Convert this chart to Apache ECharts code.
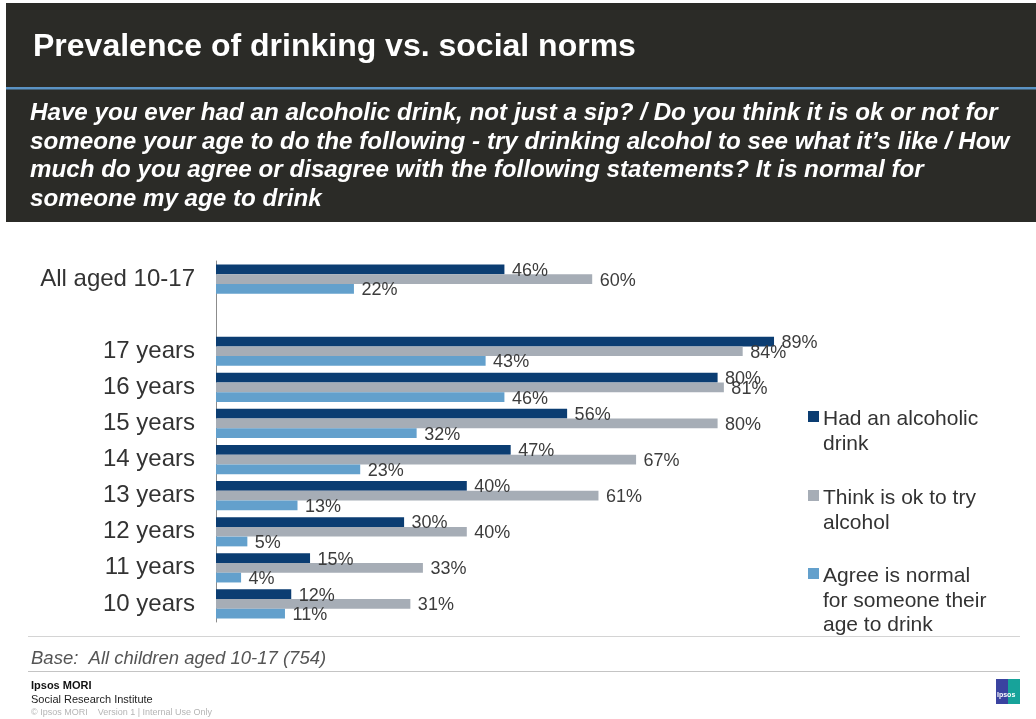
<!DOCTYPE html>
<html>
<head>
<meta charset="utf-8">
<script src="https://cdn.jsdelivr.net/npm/echarts@6/dist/echarts.min.js"></script>
<style>
  html, body { margin: 0; padding: 0; background: #ffffff; }
  #chart { width: 1036px; height: 719px; }
</style>
</head>
<body>
<div id="chart"></div>
<script>
// Age groups (an empty slot separates the overall figure from the single years)
const categories = ['All aged 10-17', '', '17 years', '16 years', '15 years', '14 years', '13 years', '12 years', '11 years', '10 years'];

// Percentages per group
const hadDrink    = [46, '-', 89, 80, 56, 47, 40, 30, 15, 12];
const thinkOk     = [60, '-', 84, 81, 80, 67, 61, 40, 33, 31];
const agreeNormal = [22, '-', 43, 46, 32, 23, 13,  5,  4, 11];

const seriesNames = ['Had an alcoholic drink', 'Think is ok to try alcohol', 'Agree is normal for someone their age to drink'];
const legendLines = [
  ['Had an alcoholic', 'drink'],
  ['Think is ok to try', 'alcohol'],
  ['Agree is normal', 'for someone their', 'age to drink']
];
const colors = ['#0b3d72', '#a6adb6', '#63a0cc'];

const titleText = 'Prevalence of drinking vs. social norms';
const questionLines = [
  'Have you ever had an alcoholic drink, not just a sip? / Do you think it is ok or not for',
  'someone your age to do the following - try drinking alcohol to see what it\u2019s like / How',
  'much do you agree or disagree with the following statements? It is normal for',
  'someone my age to drink'
];
const baseText = 'Base:  All children aged 10-17 (754)';

const FONT = '"Liberation Sans", Arial, Helvetica, sans-serif';

const chart = echarts.init(document.getElementById('chart'), null, { renderer: 'canvas' });

const seriesData = [hadDrink, thinkOk, agreeNormal];

// Hand-built legend: square swatch beside the first line of a wrapped label
const legendTops = [411, 490, 568];
const legendGraphics = [];
legendLines.forEach((lines, i) => {
  legendGraphics.push({
    type: 'rect', left: 808, top: legendTops[i],
    shape: { width: 11, height: 11 },
    style: { fill: colors[i] }
  });
  legendGraphics.push({
    type: 'text', left: 823, top: legendTops[i] - 4,
    style: {
      text: lines.join('\n'), fill: '#333333',
      font: '21px ' + FONT, lineHeight: 24.5
    }
  });
});

const option = {
  backgroundColor: '#ffffff',
  animation: false,
  grid: { left: 216, top: 261, width: 627, height: 361, containLabel: false },
  xAxis: {
    type: 'value', min: 0, max: 100,
    show: false
  },
  yAxis: {
    type: 'category',
    data: categories,
    inverse: true,
    axisLine: { show: true, lineStyle: { color: '#8c8c8c', width: 1 } },
    axisTick: { show: false },
    axisLabel: { color: '#333333', fontSize: 24, fontFamily: FONT, margin: 21 }
  },
  series: seriesData.map((d, i) => ({
    type: 'bar',
    name: seriesNames[i],
    data: d,
    barGap: '0%',
    barCategoryGap: '19%',
    itemStyle: { color: colors[i] },
    label: {
      show: true, position: 'right', distance: 7.5, offset: [0, 1.5],
      formatter: '{c}%',
      color: '#3c3c3c', fontSize: 18, fontFamily: FONT
    }
  })),
  graphic: [
    // header block
    { type: 'rect', left: 6, top: 3, shape: { width: 1030, height: 219 }, style: { fill: '#2b2b27' } },
    { type: 'rect', left: 6, top: 87, shape: { width: 1030, height: 2.5 }, style: { fill: '#5b93c4' } },
    {
      type: 'text', left: 33, top: 31,
      style: { text: titleText, fill: '#ffffff', font: 'bold 32px ' + FONT }
    },
    {
      type: 'text', left: 30, top: 99,
      style: {
        text: questionLines.join('\n'), fill: '#ffffff',
        font: 'italic bold 24.2px ' + FONT, lineHeight: 28.7
      }
    },
    ...legendGraphics,
    // footer
    { type: 'rect', left: 28, top: 636, shape: { width: 992, height: 1 }, style: { fill: '#d4d4d4' } },
    {
      type: 'text', left: 31, top: 649,
      style: { text: baseText, fill: '#555555', font: 'italic 18.5px ' + FONT }
    },
    { type: 'rect', left: 28, top: 671, shape: { width: 992, height: 1 }, style: { fill: '#c4c4c4' } },
    {
      type: 'text', left: 31, top: 680,
      style: { text: 'Ipsos MORI', fill: '#111111', font: 'bold 11px ' + FONT }
    },
    {
      type: 'text', left: 31, top: 694,
      style: { text: 'Social Research Institute', fill: '#222222', font: '11px ' + FONT }
    },
    {
      type: 'text', left: 31, top: 708,
      style: { text: '\u00A9 Ipsos MORI    Version 1 | Internal Use Only', fill: '#b5b5b5', font: '9px ' + FONT }
    },
    // small brand mark
    { type: 'rect', left: 996, top: 679, shape: { width: 12, height: 25 }, style: { fill: '#3a43a0' } },
    { type: 'rect', left: 1008, top: 679, shape: { width: 12, height: 25 }, style: { fill: '#17a39a' } },
    {
      type: 'text', left: 997, top: 692,
      style: { text: 'Ipsos', fill: '#ffffff', font: 'bold 7px ' + FONT }
    }
  ]
};

chart.setOption(option);
</script>
</body>
</html>
